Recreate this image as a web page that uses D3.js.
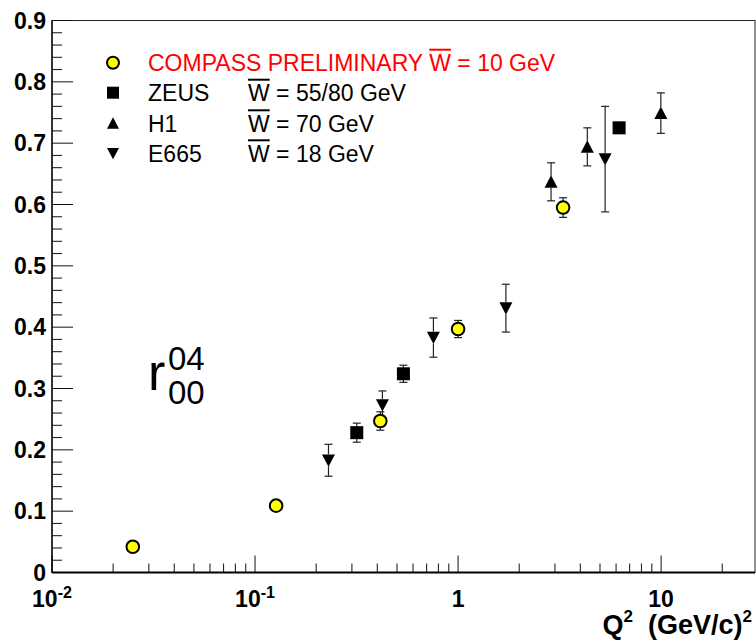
<!DOCTYPE html>
<html><head><meta charset="utf-8">
<script src="https://cdn.jsdelivr.net/npm/d3@7"></script>
<style>body{margin:0;background:#fff}svg{display:block}</style>
</head><body>
<script>
// ---- data ----
const compassQ2 = [0.025, 0.127, 0.414, 1.0, 3.29];
const compassR  = [0.042, 0.109, 0.247, 0.397, 0.595];
const compassErr= [0.005, 0.005, 0.015, 0.014, 0.016];

const zeusQ2 = [0.317, 0.538, 6.21];
const zeusR  = [0.228, 0.324, 0.725];
const zeusErr= [0.0155, 0.014, 0.008];

const h1Q2 = [2.87, 4.33, 9.97];
const h1R  = [0.637, 0.694, 0.749];
const h1Err= [0.031, 0.031, 0.033];

const e665Q2 = [0.23, 0.424, 0.756, 1.72, 5.30];
const e665R  = [0.183, 0.273, 0.383, 0.431, 0.674];
const e665Err= [0.026, 0.023, 0.032, 0.039, 0.086];

const yTicks = [0,0.1,0.2,0.3,0.4,0.5,0.6,0.7,0.8,0.9];
const yTickLabels = ["0","0.1","0.2","0.3","0.4","0.5","0.6","0.7","0.8","0.9"];
const xMajor = [0.01, 0.1, 1, 10];
const xMajorBase = ["10","10","1","10"];
const xMajorExp  = ["-2","-1","",""];

const legendNames = ["COMPASS PRELIMINARY", "ZEUS", "H1", "E665"];
const legendW = ["= 10 GeV", "= 55/80 GeV", "= 70 GeV", "= 18 GeV"];

// ---- layout ----
const W = 756, H = 642;
const L = 52, R = 755, T = 20.5, B = 572.5;
const x = d3.scaleLog().domain([0.01, 29]).range([L, R]);
const y = d3.scaleLinear().domain([0, 0.9]).range([B, T]);
const FONT = "'Liberation Sans', Arial, Helvetica, sans-serif";

const svg = d3.select("body").append("svg").attr("width", W).attr("height", H)
  .style("font-family", FONT);

// frame
svg.append("rect").attr("x", L).attr("y", T).attr("width", R - L).attr("height", B - T)
  .attr("fill", "none").attr("stroke", "#222").attr("stroke-width", 1);

// y ticks (inside)
const yMinor = d3.range(0, 0.9001, 0.02);
svg.append("g").selectAll("line").data(yMinor).join("line")
  .attr("x1", L).attr("x2", d => L + (Math.abs(d*10 - Math.round(d*10)) < 1e-6 ? 21 : 10))
  .attr("y1", d => y(d)).attr("y2", d => y(d))
  .attr("stroke", "#111").attr("stroke-width", 1);
svg.append("g").selectAll("text").data(yTicks).join("text")
  .attr("x", 46).attr("y", d => y(d)).attr("dy", "0.36em")
  .attr("text-anchor", "end").attr("font-weight", "bold").attr("font-size", 23)
  .text((d, i) => yTickLabels[i]);

// x ticks (inside, upward)
const xMinor = [];
for (const dec of [0.01, 0.1, 1, 10]) for (let k = 2; k <= 9; k++) { const v = dec * k; if (v <= 29) xMinor.push(v); }
svg.append("g").selectAll("line").data(xMinor).join("line")
  .attr("x1", d => x(d)).attr("x2", d => x(d)).attr("y1", B).attr("y2", B - 9)
  .attr("stroke", "#111").attr("stroke-width", 1);
svg.append("g").selectAll("line").data(xMajor).join("line")
  .attr("x1", d => x(d)).attr("x2", d => x(d)).attr("y1", B).attr("y2", B - 17)
  .attr("stroke", "#111").attr("stroke-width", 1);
// bottom axis line thicker
svg.append("line").attr("x1", L).attr("x2", R).attr("y1", B).attr("y2", B)
  .attr("stroke", "#000").attr("stroke-width", 2.2);
svg.append("line").attr("x1", L).attr("x2", L).attr("y1", T).attr("y2", B)
  .attr("stroke", "#000").attr("stroke-width", 1.3);

xMajor.forEach((v, i) => {
  const t = svg.append("text").attr("y", 607).attr("font-weight", "bold").attr("font-size", 23)
    .attr("text-anchor", "middle").attr("x", x(v));
  t.append("tspan").text(xMajorBase[i]);
  if (xMajorExp[i]) t.append("tspan").attr("dy", -9).attr("font-size", 16).text(xMajorExp[i]);
});

// x axis title
const xt = svg.append("text").attr("x", 752).attr("y", 634).attr("text-anchor", "end")
  .attr("font-weight", "bold").attr("font-size", 27);
xt.append("tspan").text("Q");
xt.append("tspan").attr("dy", -12).attr("font-size", 17).text("2");
xt.append("tspan").attr("dy", 12).attr("xml:space", "preserve").text("  (GeV/c)");
xt.append("tspan").attr("dy", -12).attr("font-size", 17).text("2");

// y axis title r^{04}_{00}
svg.append("text").attr("x", 148).attr("y", 390).attr("font-size", 52).text("r");
svg.append("text").attr("x", 168).attr("y", 370).attr("font-size", 33).text("04");
svg.append("text").attr("x", 168).attr("y", 404).attr("font-size", 33).text("00");

// ---- markers ----
function errorBars(g, qs, rs, es, gap) {
  qs.forEach((q, i) => {
    const cx = x(q), cy = y(rs[i]);
    const top = y(rs[i] + es[i]), bot = y(rs[i] - es[i]);
    if (cy - gap > top) {
      g.append("line").attr("x1", cx).attr("x2", cx).attr("y1", top).attr("y2", cy - gap);
      g.append("line").attr("x1", cx - 4).attr("x2", cx + 4).attr("y1", top).attr("y2", top);
    }
    if (bot > cy + gap) {
      g.append("line").attr("x1", cx).attr("x2", cx).attr("y1", cy + gap).attr("y2", bot);
      g.append("line").attr("x1", cx - 4).attr("x2", cx + 4).attr("y1", bot).attr("y2", bot);
    }
  });
}
const eg = svg.append("g").attr("stroke", "#222").attr("stroke-width", 1.2);
errorBars(eg, compassQ2, compassR, compassErr, 6);
errorBars(eg, zeusQ2, zeusR, zeusErr, 6);
errorBars(eg, h1Q2, h1R, h1Err, 6);
errorBars(eg, e665Q2, e665R, e665Err, 6);

function square(g, cx, cy, s) {
  g.append("rect").attr("x", cx - s/2).attr("y", cy - s/2).attr("width", s).attr("height", s).attr("fill", "#000");
}
function triUp(g, cx, cy, s) {
  g.append("path").attr("d", `M${cx - s/2},${cy + s*0.45}L${cx + s/2},${cy + s*0.45}L${cx},${cy - s*0.5}Z`).attr("fill", "#000");
}
function triDown(g, cx, cy, s) {
  g.append("path").attr("d", `M${cx - s/2},${cy - s*0.45}L${cx + s/2},${cy - s*0.45}L${cx},${cy + s*0.5}Z`).attr("fill", "#000");
}
function circ(g, cx, cy, r) {
  g.append("circle").attr("cx", cx).attr("cy", cy).attr("r", r).attr("fill", "#ffff00")
    .attr("stroke", "#000").attr("stroke-width", 2);
}
const mg = svg.append("g");
zeusQ2.forEach((q, i) => square(mg, x(q), y(zeusR[i]), 13));
h1Q2.forEach((q, i) => triUp(mg, x(q), y(h1R[i]), 13));
e665Q2.forEach((q, i) => triDown(mg, x(q), y(e665R[i]), 13));
compassQ2.forEach((q, i) => circ(mg, x(q), y(compassR[i]), 6.3));

// ---- legend ----
const legY = [62.7, 92.7, 123.3, 153.3];
const lg = svg.append("g");
circ(lg, 113, legY[0], 6);
square(lg, 113, legY[1], 12);
triUp(lg, 113, legY[2], 12);
triDown(lg, 113, legY[3], 12);

const LFS = 23;
function wBar(xPos, base, color, rest) {
  const t = lg.append("text").attr("x", xPos).attr("y", base).attr("font-size", LFS).attr("fill", color).text("W");
  const w = t.node().getComputedTextLength();
  lg.append("line").attr("x1", xPos).attr("x2", xPos + w).attr("y1", base - 21.5).attr("y2", base - 21.5)
    .attr("stroke", color).attr("stroke-width", 2);
  lg.append("text").attr("x", xPos + w).attr("y", base).attr("font-size", LFS).attr("fill", color)
    .attr("xml:space", "preserve").text(" " + rest);
}
legendNames.forEach((n, i) => {
  const base = legY[i] + 8.5;
  const color = i === 0 ? "#ff0000" : "#000";
  const t = lg.append("text").attr("x", 148).attr("y", base).attr("font-size", LFS).attr("fill", color).text(n);
  let wx = 248;
  if (i === 0) wx = 148 + t.node().getComputedTextLength() + 6;
  wBar(wx, base, color, legendW[i]);
});
</script>
</body></html>
